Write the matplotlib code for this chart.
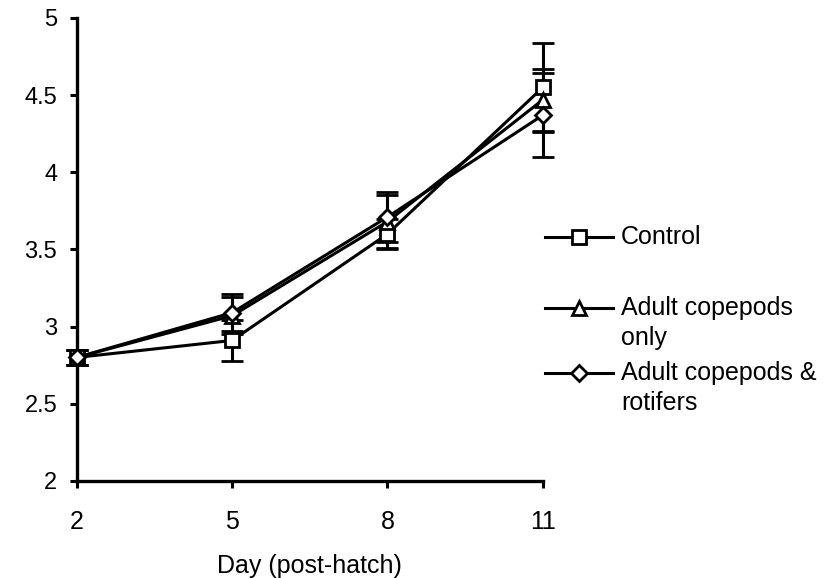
import matplotlib.pyplot as plt
from matplotlib.lines import Line2D

plt.rcParams['font.family'] = ['Liberation Sans', 'DejaVu Sans']

days = [2, 5, 8, 11]
control = [2.80, 2.91, 3.60, 4.55]
control_err = [0.05, 0.13, 0.10, 0.29]
adult = [2.80, 3.07, 3.68, 4.47]
adult_err = [0.05, 0.12, 0.17, 0.20]
adult_rot = [2.80, 3.09, 3.71, 4.37]
adult_rot_err = [0.05, 0.12, 0.16, 0.27]
labels = ['Control', 'Adult copepods\nonly', 'Adult copepods &\nrotifers']
markers = ['s', '^', 'D']

fig = plt.figure(figsize=(8.25, 5.78), dpi=100)
ax = fig.add_axes([0.093, 0.168, 0.565, 0.801])

series = [(control, control_err), (adult, adult_err), (adult_rot, adult_rot_err)]
for (vals, err), m in zip(series, markers):
    ms = 8 if m == 'D' else 10
    ax.errorbar(days, vals, yerr=err, color='black', lw=2.2, marker=m, ms=ms,
                mfc='white', mec='black', mew=2, capsize=8, capthick=2.2,
                elinewidth=2.2, clip_on=False, zorder=3)

ax.set_xlim(2, 11)
ax.set_ylim(2, 5)
ax.set_xticks(days)
ax.set_yticks([2, 2.5, 3, 3.5, 4, 4.5, 5])
ax.set_yticklabels(['2', '2.5', '3', '3.5', '4', '4.5', '5'])
ax.spines['top'].set_visible(False)
ax.spines['right'].set_visible(False)
for s in ['left', 'bottom']:
    ax.spines[s].set_linewidth(2.4)
ax.tick_params(width=2.2, length=5)
ax.tick_params(axis='y', labelsize=17, pad=9)
ax.tick_params(axis='x', labelsize=18, pad=16)
ax.set_xlabel('Day (post-hatch)', fontsize=18, labelpad=14)

# hand-drawn legend to the right, marker sits on the first text line
legend_y = [0.590, 0.467, 0.355]
for m, lab, y in zip(markers, labels, legend_y):
    ms = 8 if m == 'D' else 10
    fig.add_artist(Line2D([0.661, 0.702, 0.743], [y, y, y], transform=fig.transFigure,
                          color='black', lw=2.2, marker=m, ms=ms, markevery=[1],
                          mfc='white', mec='black', mew=2))
    for i, line in enumerate(lab.split('\n')):
        fig.text(0.753, y - i * 0.052, line, fontsize=18, va='center', ha='left')

fig.savefig('out.png', dpi=100)
